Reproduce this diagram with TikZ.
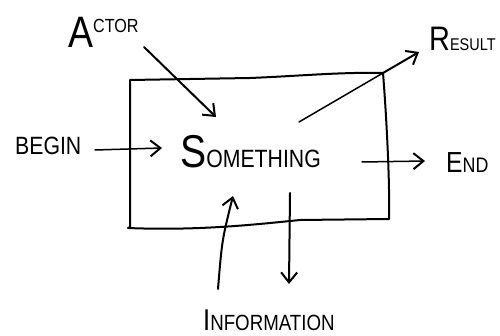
\documentclass[tikz,border=0pt]{standalone}
\usepackage{fontspec}
\newfontfamily\hand[FakeStretch=0.85]{Liberation Sans}
\usetikzlibrary{arrows.meta}
\newcommand{\fs}[1]{\fontsize{#1}{#1}\selectfont}
\begin{document}
\begin{tikzpicture}[x=1pt,y=-1pt,
  ink/.style={line width=2pt,line cap=round,line join=round},
  flow/.style={ink,-{Straight Barb[length=10pt,width=16pt,line width=2pt]}},
  lbl/.style={inner sep=0pt,anchor=base west,font=\hand}]
\useasboundingbox (0,0) rectangle (500,336);
% box
\coordinate (tl) at (130,80);
\coordinate (tr) at (383,73);
\coordinate (br) at (389,219);
\coordinate (bl) at (128,228);
\draw[ink] (tl) -- (130,227) -- (bl)
  .. controls (200,231) and (260,224) .. (300,220) -- (br)
  .. controls (390,180) and (386,110) .. (tr)
  .. controls (340,72) and (300,76) .. (250,78) -- cycle;
% labels
\node[lbl] (actor) at (68,48) {\fs{44}A\raisebox{15pt}{\fs{19}CTOR}};
\node[lbl] (begin) at (15,155) {\fs{25}BEGIN};
\node[lbl] (some) at (180,168) {\fs{46}S\fs{25}OMETHING};
\node[lbl] (result) at (429,51) {\fs{34}R\fs{17}ESULT};
\node[lbl] (end) at (446,173) {\fs{29}E\fs{21}ND};
\node[lbl] (info) at (203,330) {\fs{30}I\fs{22}NFORMATION};
% arrow endpoints
\coordinate (a1) at (144,47); \coordinate (a2) at (216,117);
\coordinate (b1) at (95,150); \coordinate (b2) at (162,148);
\coordinate (r1) at (299,122); \coordinate (r2) at (419,52);
\coordinate (e1) at (362,162); \coordinate (e2) at (425,161);
\coordinate (i1) at (218,289); \coordinate (i2) at (233,196);
\coordinate (d1) at (290,193); \coordinate (d2) at (289,284);
% arrows
\draw[flow] (a1) -- (a2);
\draw[flow,line width=1.5pt] (b1) -- (b2);
\draw[ink,line width=1.5pt] (r1) -- (tr);
\draw[flow] (tr) -- (r2);
\draw[flow,line width=1.5pt] (e1) -- (e2);
\draw[flow] (i1) .. controls (222,240) .. (i2);
\draw[flow] (d1) -- (d2);
\end{tikzpicture}
\end{document}
